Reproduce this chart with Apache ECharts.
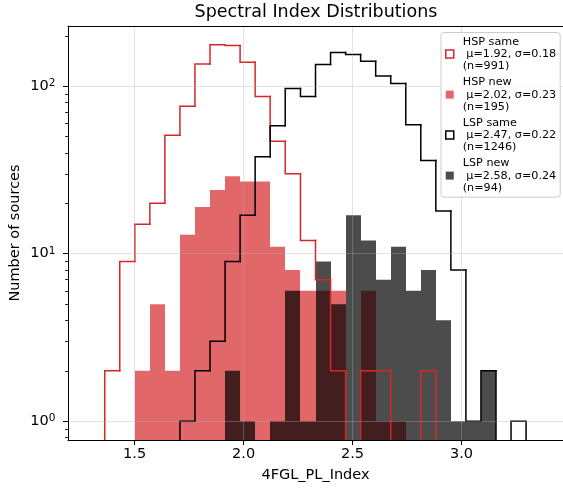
<!DOCTYPE html>
<html>
<head>
<meta charset="utf-8">
<script src="https://cdn.jsdelivr.net/npm/echarts@6/dist/echarts.min.js"></script>
<style>
  html, body { margin: 0; padding: 0; background: #fff; }
  #chart { width: 563px; height: 489px; }
</style>
</head>
<body>
<div id="chart"></div>
<script>
// histogram bin edges (4FGL_PL_Index), 28 bins
const binEdges = [1.363, 1.432, 1.501, 1.570, 1.639, 1.708, 1.777, 1.846, 1.915, 1.984,
                  2.053, 2.122, 2.191, 2.261, 2.330, 2.399, 2.468, 2.537, 2.606, 2.675,
                  2.744, 2.813, 2.882, 2.951, 3.020, 3.089, 3.158, 3.227, 3.296];

// counts per bin
const hspSame = [2, 9, 15, 20, 51, 76, 136, 177, 175, 139, 87, 47, 30, 12, 7, 2, 0, 2, 2, 0, 0, 2, 0, 0, 0, 0, 0, 0];
const hspNew  = [0, 0, 2, 5, 2, 13, 19, 24, 29, 27, 27, 11, 8, 6, 6, 6, 0, 6, 1, 1, 0, 0, 0, 0, 0, 0, 0, 0];
const lspSame = [0, 0, 0, 0, 0, 1, 2, 3, 9, 17, 38, 58, 97, 87, 135, 159, 155, 141, 115, 104, 59, 36, 18, 8, 1, 2, 0, 1];
const lspNew  = [0, 0, 0, 0, 0, 0, 0, 0, 2, 1, 0, 1, 6, 1, 9, 5, 17, 12, 7, 11, 6, 8, 4, 1, 1, 2, 0, 0];

const seriesLabels = [
  'HSP same\n μ=1.92, σ=0.18\n(n=991)',
  'HSP new\n μ=2.02, σ=0.23\n(n=195)',
  'LSP same\n μ=2.47, σ=0.22\n(n=1246)',
  'LSP new\n μ=2.58, σ=0.24\n(n=94)'
];

const xTicks = [1.5, 2.0, 2.5, 3.0];
const yTicks = [1, 10, 100];
const yMinorTicks = [0.8, 0.9, 2, 3, 4, 5, 6, 7, 8, 9, 20, 30, 40, 50, 60, 70, 80, 90, 200];

const xMin = 1.1945, xMax = 3.4654;
const yMin = 0.772, yMax = 229;
const floorValue = 0.3; // zero bins drop below the axis (clipped)

const font = 'DejaVu Sans';
const red = '#d62728';
const redFill = 'rgba(214,39,40,0.7)';
const greyFill = 'rgba(0,0,0,0.7)';
const gridColor = 'rgba(176,176,176,0.35)';

function binsOf(counts) {
  return counts.map((c, i) => [
    binEdges[i], binEdges[i + 1], c,
    i > 0 ? counts[i - 1] : 0,
    i === counts.length - 1 ? 1 : 0
  ]);
}

// filled histogram (bars from the bottom of the axis)
function fillRenderer(color) {
  return function (params, api) {
    const c = api.value(2);
    if (!c) return null;
    const tl = api.coord([api.value(0), c]);
    const br = api.coord([api.value(1), yMin]);
    const x0 = Math.round(tl[0]), x1 = Math.round(br[0]);
    return {
      type: 'rect',
      shape: { x: x0, y: tl[1], width: x1 - x0, height: br[1] - tl[1] },
      style: { fill: color, opacity: 0.7 }
    };
  };
}

// step outline histogram
function stepRenderer(color) {
  return function (params, api) {
    const x0 = api.value(0), x1 = api.value(1);
    const c = api.value(2) || floorValue;
    const prev = api.value(3) || floorValue;
    const pts = [api.coord([x0, prev]), api.coord([x0, c]), api.coord([x1, c])];
    if (api.value(4)) pts.push(api.coord([x1, floorValue]));
    return {
      type: 'polyline',
      shape: { points: pts },
      style: { stroke: color, lineWidth: 1.5, fill: null, lineCap: 'square' }
    };
  };
}

const log10 = v => Math.log10(v);

const chart = echarts.init(document.getElementById('chart'), null, { renderer: 'canvas' });

const option = {
  backgroundColor: '#fff',
  animation: false,
  title: {
    text: 'Spectral Index Distributions',
    left: 316,
    textAlign: 'center',
    top: 3,
    padding: 0,
    textStyle: { fontFamily: font, fontSize: 17.5, fontWeight: 'normal', color: '#000' }
  },
  grid: { left: 67, right: -2, top: 26, bottom: 49, containLabel: false },
  legend: {
    orient: 'vertical',
    left: 441,
    top: 32.5,
    padding: [3, 4, 3, 4],
    itemGap: 3.3,
    itemWidth: 8,
    itemHeight: 8,
    selectedMode: false,
    backgroundColor: 'rgba(255,255,255,0.8)',
    borderColor: '#cccccc',
    borderWidth: 1,
    borderRadius: 3,
    textStyle: { fontFamily: font, fontSize: 11.2, lineHeight: 12.4, color: '#000', padding: [0, 0, 0, 4] },
    data: [
      { name: seriesLabels[0], icon: 'rect', itemStyle: { color: '#fff', borderColor: red, borderWidth: 1.5 } },
      { name: seriesLabels[1], icon: 'rect', itemStyle: { color: redFill, borderWidth: 0 } },
      { name: seriesLabels[2], icon: 'rect', itemStyle: { color: '#fff', borderColor: '#000', borderWidth: 1.5 } },
      { name: seriesLabels[3], icon: 'rect', itemStyle: { color: greyFill, borderWidth: 0 } }
    ]
  },
  xAxis: [
    {
      type: 'value', min: xMin, max: xMax, position: 'bottom', z: 3,
      name: '4FGL_PL_Index', nameLocation: 'middle', nameGap: 28,
      nameTextStyle: { fontFamily: font, fontSize: 14.5, color: '#000' },
      axisLine: { show: true, onZero: false, lineStyle: { color: '#000', width: 1 } },
      axisTick: { show: true, length: 5, customValues: xTicks, lineStyle: { color: '#000', width: 1 } },
      axisLabel: { customValues: xTicks, formatter: v => v.toFixed(1), fontFamily: font, fontSize: 14.5, color: '#000', margin: 7 },
      splitLine: { show: true, lineStyle: { color: gridColor, width: 1 } }
    },
    {
      type: 'value', min: xMin, max: xMax, position: 'top', z: 3,
      axisLine: { show: true, onZero: false, lineStyle: { color: '#000', width: 1 } },
      axisTick: { show: false }, axisLabel: { show: false }, splitLine: { show: false }
    }
  ],
  yAxis: [
    {
      type: 'log', logBase: 10, min: yMin, max: yMax, position: 'left', z: 3,
      name: 'Number of sources', nameLocation: 'middle', nameGap: 45,
      nameTextStyle: { fontFamily: font, fontSize: 14.5, color: '#000' },
      axisLine: { show: true, onZero: false, lineStyle: { color: '#000', width: 1 } },
      axisTick: { show: false }, axisLabel: { show: false },
      splitLine: { show: true, showMinLine: false, showMaxLine: false, lineStyle: { color: gridColor, width: 1 } }
    },
    {
      type: 'value', min: log10(yMin), max: log10(yMax), position: 'left', z: 3,
      axisLine: { show: false, onZero: false },
      axisTick: { show: true, length: 5, customValues: yTicks.map(log10), lineStyle: { color: '#000', width: 1 } },
      axisLabel: {
        customValues: yTicks.map(log10), margin: 12.5,
        formatter: v => '{b|10}{s|' + Math.round(v) + '}',
        rich: {
          b: { fontFamily: font, fontSize: 14.5, lineHeight: 16, color: '#000' },
          s: { fontFamily: font, fontSize: 10.5, lineHeight: 11, verticalAlign: 'top', color: '#000' }
        }
      },
      splitLine: { show: false }
    },
    {
      type: 'value', min: log10(yMin), max: log10(yMax), position: 'left', z: 3,
      axisLine: { show: false, onZero: false },
      axisTick: { show: true, length: 2.8, customValues: yMinorTicks.map(log10), lineStyle: { color: '#000', width: 0.9 } },
      axisLabel: { show: false }, splitLine: { show: false }
    }
  ],
  series: [
    { type: 'custom', name: seriesLabels[1], data: binsOf(hspNew), renderItem: fillRenderer(red),
      clip: true, encode: { x: [0, 1], y: 2 }, itemStyle: { color: redFill } },
    { type: 'custom', name: seriesLabels[3], data: binsOf(lspNew), renderItem: fillRenderer('#000'),
      clip: true, encode: { x: [0, 1], y: 2 }, itemStyle: { color: greyFill } },
    { type: 'custom', name: seriesLabels[0], data: binsOf(hspSame), renderItem: stepRenderer(red),
      clip: true, encode: { x: [0, 1], y: 2 }, itemStyle: { color: red } },
    { type: 'custom', name: seriesLabels[2], data: binsOf(lspSame), renderItem: stepRenderer('#000'),
      clip: true, encode: { x: [0, 1], y: 2 }, itemStyle: { color: '#000' } }
  ]
};

chart.setOption(option);
</script>
</body>
</html>
